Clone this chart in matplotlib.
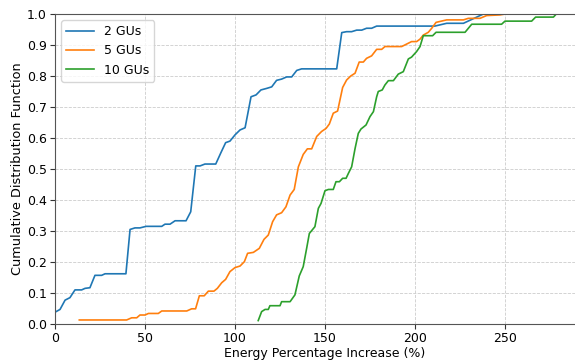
import numpy as np
import matplotlib
matplotlib.use("Agg")
import matplotlib.pyplot as plt

# CDF curves (x = energy % increase, y = CDF)
x2 = [0, 2.8, 5.6, 8.3, 11.1, 14.8, 16.7, 19.4, 22.2, 25.9, 27.8, 39.4, 41.7, 44.4, 47.2,
      50.6, 59.3, 61.1, 63.9, 66.7, 72.8, 75.4, 78.2, 80.6, 83.3, 89.3, 92.2, 94.8, 97.2,
      100.0, 102.8, 105.6, 108.9, 111.7, 114.4, 117.6, 120.4, 123.1, 125.9, 128.7, 131.5,
      134.3, 137.0, 156.5, 159.3, 162.0, 164.8, 167.6, 170.4, 173.1, 175.9, 178.7, 211.0,
      217.6, 226.9, 238.0, 274.0]
y2 = [0.038, 0.047, 0.077, 0.085, 0.11, 0.11, 0.115, 0.117, 0.157, 0.157, 0.162, 0.162, 0.305,
      0.31, 0.31, 0.315, 0.315, 0.322, 0.322, 0.333, 0.333, 0.362, 0.51, 0.51, 0.516, 0.516,
      0.553, 0.585, 0.59, 0.61, 0.626, 0.633, 0.733, 0.739, 0.755, 0.76, 0.765, 0.786, 0.79,
      0.797, 0.797, 0.818, 0.823, 0.823, 0.94, 0.943, 0.943, 0.948, 0.948, 0.954, 0.954, 0.961,
      0.961, 0.97, 0.97, 1.0, 1.0]

x5 = [13.5, 39.8, 42.6, 45.4, 47.2, 50.0, 51.9, 57.4, 59.3, 73.2, 75.9, 78.1, 80.2, 82.9,
      85.2, 88.3, 90.2, 92.6, 94.8, 97.2, 100.0, 102.8, 105.2, 107.0, 110.2, 113.5, 116.1,
      118.5, 120.9, 123.1, 125.9, 128.3, 130.6, 132.9, 135.2, 137.9, 140.2, 142.6, 145.4,
      148.1, 150.6, 152.4, 154.6, 157.0, 159.8, 162.0, 164.3, 166.7, 169.0, 171.3, 173.1,
      175.9, 178.7, 181.5, 183.3, 192.6, 198.1, 200.9, 202.8, 204.6, 207.4, 209.3, 211.7,
      217.6, 226.9, 229.6, 236.1, 239.8, 247.2, 250.0]
y5 = [0.013, 0.013, 0.02, 0.02, 0.029, 0.029, 0.034, 0.034, 0.042, 0.042, 0.049, 0.049, 0.091,
      0.091, 0.106, 0.106, 0.115, 0.133, 0.144, 0.169, 0.182, 0.187, 0.201, 0.228, 0.231,
      0.244, 0.273, 0.287, 0.33, 0.352, 0.359, 0.378, 0.416, 0.434, 0.507, 0.547, 0.565,
      0.565, 0.605, 0.621, 0.631, 0.645, 0.68, 0.687, 0.763, 0.787, 0.8, 0.809, 0.845, 0.845,
      0.857, 0.865, 0.886, 0.886, 0.895, 0.895, 0.911, 0.911, 0.919, 0.932, 0.941, 0.954,
      0.973, 0.981, 0.981, 0.986, 0.986, 0.995, 0.997, 1.0]

x10 = [112.9, 114.8, 116.7, 118.5, 119.4, 125.0, 125.9, 130.6, 133.3, 135.7, 137.9, 139.8,
       141.3, 144.4, 146.3, 147.8, 150.0, 151.9, 154.6, 156.1, 158.0, 159.8, 161.7, 163.0,
       164.8, 166.7, 168.5, 170.0, 172.8, 175.0, 176.9, 178.7, 179.6, 181.8, 183.3, 185.2,
       188.0, 190.7, 193.5, 196.3, 198.1, 200.9, 202.8, 204.6, 209.8, 211.7, 227.8, 231.5,
       248.1, 250.0, 264.8, 267.0, 276.9, 278.5]
y10 = [0.011, 0.04, 0.047, 0.047, 0.059, 0.059, 0.072, 0.072, 0.094, 0.155, 0.185, 0.244,
       0.292, 0.314, 0.373, 0.389, 0.43, 0.434, 0.434, 0.459, 0.459, 0.47, 0.47, 0.486, 0.507,
       0.566, 0.615, 0.629, 0.642, 0.669, 0.685, 0.733, 0.75, 0.755, 0.771, 0.785, 0.785,
       0.806, 0.814, 0.855, 0.861, 0.879, 0.895, 0.93, 0.93, 0.941, 0.941, 0.967, 0.967,
       0.977, 0.977, 0.99, 0.99, 1.0]

fig = plt.figure(figsize=(5.75, 3.6), dpi=100)
ax = fig.add_axes([55 / 575, 36 / 360, 540 / 575, 310 / 360])

ax.plot(x2, y2, color='#1f77b4', lw=1.2, label='2 GUs')
ax.plot(x5, y5, color='#ff7f0e', lw=1.2, label='5 GUs')
ax.plot(x10, y10, color='#2ca02c', lw=1.2, label='10 GUs')

ax.set_xlim(0, 300)
ax.set_ylim(0, 1)
ax.set_xticks([0, 50, 100, 150, 200, 250])
ax.set_yticks(np.arange(0, 1.01, 0.1))
ax.grid(True, linestyle='--', color='#cccccc', linewidth=0.6)
for s in ax.spines.values():
    s.set_color('#555555')
ax.tick_params(colors='#333333', labelcolor='black', labelsize=9, length=3.5, pad=2.5)

ax.set_xlabel('Energy Percentage Increase (%)', fontsize=9, labelpad=1)
ax.set_ylabel('Cumulative Distribution Function', fontsize=9.3, labelpad=2)
ax.legend(loc='upper left', fontsize=9, handlelength=2.2)

fig.savefig('out.png', dpi=100)
